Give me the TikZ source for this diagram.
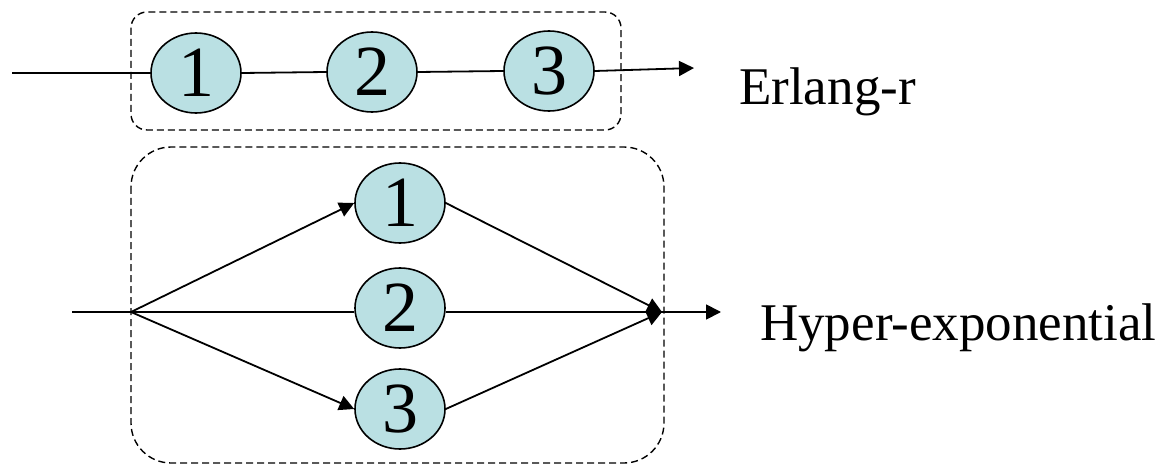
\documentclass[tikz,border=0pt]{standalone}
\usepackage{fontspec}
\setmainfont{Liberation Serif}
\usetikzlibrary{shapes.geometric,arrows.meta}
\definecolor{stagefill}{RGB}{186,224,227}
\newcommand{\stagenum}[1]{\raisebox{-5pt}{#1}}
\tikzset{
  stage/.style={ellipse,draw=black,line width=1.6pt,fill=stagefill,minimum width=90pt,minimum height=80pt,inner sep=0pt,font=\fontsize{72}{74}\selectfont},
  flow/.style={line width=1.8pt},
  flowarr/.style={line width=1.8pt,-{Triangle[length=15pt,width=15pt]}},
  group/.style={draw=black,line width=1.4pt,dash pattern=on 7pt off 4pt},
  lbl/.style={font=\fontsize{53}{55}\selectfont,anchor=west,inner sep=0pt}
}
\begin{document}
\begin{tikzpicture}[x=1pt,y=-1pt]
\useasboundingbox (0,0) rectangle (1164,465);
% groups
\draw[group,rounded corners=16pt] (131,12) rectangle (621,130);
\draw[group,rounded corners=40pt] (131,147) rectangle (664,463);
% Erlang
\node[stage] (e1) at (196,73) {\stagenum{1}};
\node[stage] (e2) at (372,72) {\stagenum{2}};
\node[stage] (e3) at (549,71) {\stagenum{3}};
\coordinate (ein) at (12,73);
\coordinate (eout) at (694,68);
\draw[flow] (ein) -- (e1.west);
\draw[flow] (e1.east) -- (e2.west);
\draw[flow] (e2.east) -- (e3.west);
\draw[flowarr] (e3.east) -- (eout);
\node[lbl] (el) at (739,92) {Erlang-r};
% Hyper-exponential
\node[stage] (h1) at (400,203) {\stagenum{1}};
\node[stage] (h2) at (400,308) {\stagenum{2}};
\node[stage] (h3) at (400,409) {\stagenum{3}};
\coordinate (hin) at (72,312);
\coordinate (split) at (131,312);
\coordinate (merge) at (662,312);
\coordinate (hout) at (721,312);
\draw[flow] (hin) -- (split);
\draw[flowarr] (split) -- (h1.west);
\draw[flowarr] (split) -- (h3.west);
\draw[flow] (split) -- (h2.west |- split);
\draw[flowarr] (h1.east) -- (merge);
\draw[flowarr] (h3.east) -- (merge);
\draw[flow] (h2.east |- merge) -- (merge);
\draw[flowarr] (merge) -- (hout);
\node[lbl] (hl) at (760,328) {Hyper-exponential};
\end{tikzpicture}
\end{document}
